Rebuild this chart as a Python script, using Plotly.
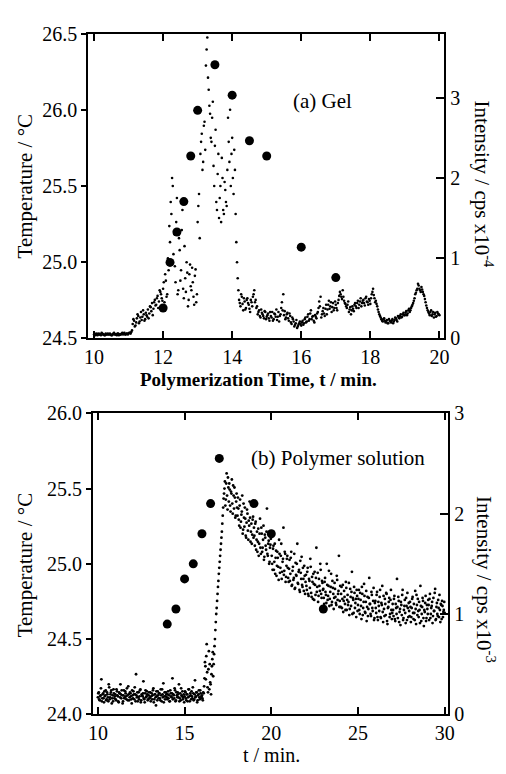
import plotly.graph_objects as go

W, H = 506, 774

# ---------------- Panel (a) Gel ----------------
temp_a_time = [12.0, 12.2, 12.4, 12.6, 12.8, 13.0, 13.5, 14.0, 14.5, 15.0, 16.0, 17.0]
temp_a_value = [24.7, 25.0, 25.2, 25.4, 25.7, 26.0, 26.3, 26.1, 25.8, 25.7, 25.1, 24.9]

# light-scattering intensity, two interleaved reading sets (start, step)
int_a_start = 10.0
int_a_start2 = 10.02
int_a_step = 0.04
int_a_value = [
    # 10.00 - 10.96
    0.05, 0.04, 0.06, 0.05, 0.05, 0.04, 0.06, 0.05, 0.04, 0.05, 0.06, 0.05, 0.05,
    0.04, 0.06, 0.05, 0.05, 0.06, 0.04, 0.05, 0.06, 0.05, 0.07, 0.05, 0.06,
    # 11.00 - 11.96
    0.06, 0.07, 0.08, 0.18, 0.22, 0.16, 0.25, 0.28, 0.21, 0.33, 0.27, 0.30, 0.24,
    0.29, 0.36, 0.31, 0.39, 0.44, 0.37, 0.48, 0.42, 0.53, 0.46, 0.58, 0.50,
    # 12.00 - 12.96
    0.62, 0.45, 0.72, 0.55, 0.85, 1.20, 1.55, 1.90, 1.30, 0.70, 1.75, 0.60, 1.10,
    0.85, 1.60, 0.50, 0.75, 0.95, 0.40, 0.80, 0.65, 0.88, 0.52, 0.78, 0.45,
    # 13.00 - 13.96
    1.45, 1.80, 2.30, 2.55, 2.20, 2.70, 3.40, 3.75, 3.10, 2.80, 2.45, 2.95, 1.90,
    2.60, 1.60, 2.30, 1.75, 1.45, 2.00, 1.55, 1.85, 1.65, 2.75, 2.20, 1.90,
    # 14.00 - 14.96
    2.50, 1.80, 2.10, 1.20, 0.75, 0.48, 0.40, 0.52, 0.35, 0.46, 0.38, 0.50, 0.42,
    0.33, 0.45, 0.52, 0.60, 0.48, 0.40, 0.33, 0.28, 0.36, 0.30, 0.25, 0.33,
    # 15.00 - 15.96
    0.27, 0.31, 0.22, 0.28, 0.33, 0.24, 0.30, 0.36, 0.27, 0.21, 0.30, 0.45, 0.55,
    0.34, 0.26, 0.32, 0.22, 0.28, 0.18, 0.24, 0.15, 0.19, 0.13, 0.17, 0.21,
    # 16.00 - 16.96
    0.16, 0.22, 0.19, 0.26, 0.21, 0.30, 0.24, 0.35, 0.27, 0.22, 0.29, 0.25, 0.33,
    0.46, 0.52, 0.30, 0.38, 0.28, 0.42, 0.36, 0.47, 0.40, 0.33, 0.44, 0.38,
    # 17.00 - 17.96
    0.42, 0.35, 0.48, 0.58, 0.52, 0.60, 0.47, 0.43, 0.38, 0.46, 0.36, 0.30, 0.40,
    0.34, 0.44, 0.38, 0.47, 0.42, 0.50, 0.44, 0.48, 0.41, 0.52, 0.45, 0.49,
    # 18.00 - 18.96
    0.43, 0.55, 0.62, 0.50, 0.47, 0.40, 0.33, 0.28, 0.24, 0.21, 0.25, 0.20, 0.23,
    0.19, 0.22, 0.20, 0.24, 0.21, 0.26, 0.23, 0.28, 0.25, 0.30, 0.27, 0.32,
    # 19.00 - 20.00
    0.29, 0.34, 0.31, 0.37, 0.35, 0.40, 0.44, 0.50, 0.57, 0.62, 0.66, 0.60, 0.64,
    0.58, 0.53, 0.45, 0.38, 0.33, 0.29, 0.35, 0.30, 0.26, 0.32, 0.28, 0.31, 0.29,
]
int_a_value2 = [
    # 10.02 - 10.98
    0.06, 0.05, 0.04, 0.06, 0.05, 0.07, 0.05, 0.04, 0.06, 0.05, 0.05, 0.06, 0.04,
    0.05, 0.07, 0.05, 0.04, 0.06, 0.05, 0.05, 0.07, 0.06, 0.05, 0.06, 0.05,
    # 11.02 - 11.98
    0.07, 0.06, 0.10, 0.24, 0.15, 0.20, 0.30, 0.19, 0.26, 0.23, 0.35, 0.22, 0.32,
    0.27, 0.25, 0.40, 0.34, 0.29, 0.45, 0.41, 0.50, 0.38, 0.60, 0.55, 0.47,
    # 12.02 - 12.98
    0.70, 0.80, 0.52, 1.00, 1.40, 1.70, 2.00, 1.05, 0.90, 1.45, 0.55, 1.25, 0.72,
    1.35, 0.62, 1.15, 0.58, 0.82, 0.48, 0.92, 0.60, 0.70, 0.42, 0.86, 0.55,
    # 13.02 - 13.98
    1.65, 1.25, 2.45, 2.10, 2.65, 2.35, 3.60, 3.25, 2.90, 2.50, 2.75, 2.15, 2.40,
    1.70, 2.05, 1.50, 1.90, 2.25, 1.60, 1.95, 1.70, 2.10, 2.45, 2.85, 2.30,
    # 14.02 - 14.98
    2.00, 2.35, 1.55, 0.95, 0.60, 0.44, 0.55, 0.43, 0.50, 0.36, 0.48, 0.44, 0.37,
    0.48, 0.40, 0.55, 0.45, 0.38, 0.30, 0.35, 0.26, 0.32, 0.28, 0.34, 0.24,
    # 15.02 - 15.98
    0.29, 0.25, 0.33, 0.26, 0.22, 0.31, 0.27, 0.23, 0.33, 0.28, 0.38, 0.35, 0.29,
    0.24, 0.30, 0.25, 0.31, 0.20, 0.26, 0.21, 0.17, 0.23, 0.15, 0.19, 0.18,
    # 16.02 - 16.98
    0.20, 0.17, 0.24, 0.20, 0.27, 0.22, 0.31, 0.24, 0.28, 0.20, 0.27, 0.31, 0.38,
    0.40, 0.26, 0.34, 0.31, 0.37, 0.30, 0.42, 0.37, 0.45, 0.39, 0.35, 0.46,
    # 17.02 - 17.98
    0.38, 0.44, 0.53, 0.55, 0.49, 0.52, 0.44, 0.40, 0.42, 0.33, 0.39, 0.35, 0.37,
    0.42, 0.40, 0.44, 0.38, 0.46, 0.40, 0.47, 0.44, 0.50, 0.46, 0.42, 0.47,
    # 18.02 - 18.98
    0.50, 0.58, 0.54, 0.45, 0.43, 0.36, 0.30, 0.26, 0.22, 0.24, 0.22, 0.21, 0.19,
    0.24, 0.21, 0.22, 0.19, 0.23, 0.25, 0.21, 0.26, 0.28, 0.26, 0.30, 0.29,
    # 19.02 - 19.98
    0.32, 0.29, 0.35, 0.33, 0.38, 0.42, 0.47, 0.55, 0.60, 0.68, 0.62, 0.58, 0.61,
    0.55, 0.49, 0.41, 0.35, 0.31, 0.33, 0.28, 0.33, 0.30, 0.27, 0.33, 0.30,
]

# ---------------- Panel (b) Polymer solution ----------------
temp_b_time = [14.0, 14.5, 15.0, 15.5, 16.0, 16.5, 17.0, 19.0, 20.0, 23.0]
temp_b_value = [24.6, 24.7, 24.9, 25.0, 25.2, 25.4, 25.7, 25.4, 25.2, 24.7]

int_b_start = 10.0
int_b_start2 = 10.025
int_b_step = 0.05
int_b_value = [
    # 10
    0.17, 0.22, 0.14, 0.19, 0.35, 0.16, 0.21, 0.12, 0.18, 0.24, 0.15, 0.20, 0.13, 0.27, 0.17, 0.22, 0.11, 0.19, 0.25, 0.16,
    # 11
    0.20, 0.14, 0.23, 0.18, 0.12, 0.21, 0.30, 0.16, 0.19, 0.13, 0.24, 0.17, 0.21, 0.15, 0.19, 0.28, 0.14, 0.22, 0.18, 0.11,
    # 12
    0.19, 0.23, 0.15, 0.20, 0.40, 0.17, 0.13, 0.22, 0.18, 0.25, 0.14, 0.19, 0.21, 0.16, 0.12, 0.24, 0.18, 0.20, 0.15, 0.22,
    # 13
    0.17, 0.13, 0.21, 0.19, 0.26, 0.15, 0.20, 0.09, 0.18, 0.23, 0.16, 0.21, 0.14, 0.19, 0.25, 0.17, 0.12, 0.22, 0.18, 0.20,
    # 14
    0.15, 0.23, 0.19, 0.13, 0.21, 0.17, 0.36, 0.20, 0.16, 0.24, 0.14, 0.19, 0.22, 0.17, 0.13, 0.21, 0.26, 0.18, 0.15, 0.20,
    # 15
    0.18, 0.22, 0.14, 0.20, 0.17, 0.25, 0.13, 0.19, 0.23, 0.16, 0.21, 0.15, 0.34, 0.18, 0.22, 0.14, 0.20, 0.17, 0.24, 0.16,
    # 16
    0.19, 0.14, 0.21, 0.36, 0.48, 0.58, 0.42, 0.22, 0.63, 0.50, 0.30, 0.40, 0.55, 0.38, 0.60, 0.75, 0.92, 1.06, 1.20, 1.33,
    # 17
    1.46, 1.58, 1.70, 1.82, 1.98, 2.15, 2.25, 2.08, 2.30, 2.18, 2.36, 2.12, 2.24, 2.02, 2.20, 2.10, 2.28, 2.05, 2.16, 1.98,
    # 18
    2.20, 1.98, 2.05, 1.88, 2.14, 1.92, 2.02, 1.80, 2.10, 1.87, 1.95, 1.76, 2.04, 1.83, 1.93, 2.12, 1.72, 1.90, 1.79, 1.97,
    # 19
    1.86, 1.68, 1.92, 1.74, 1.62, 1.85, 1.70, 1.95, 1.60, 1.80, 1.66, 1.88, 1.57, 1.76, 1.64, 2.05, 1.58, 1.73, 1.52, 1.69,
    # 20
    1.78, 1.50, 1.65, 1.44, 1.70, 1.56, 1.38, 1.62, 1.47, 1.74, 1.41, 1.58, 1.35, 1.52, 1.86, 1.43, 1.60, 1.37, 1.55, 1.46,
    # 21
    1.32, 1.54, 1.40, 1.62, 1.29, 1.47, 1.36, 1.25, 1.51, 1.38, 1.70, 1.30, 1.44, 1.22, 1.41, 1.57, 1.27, 1.35, 1.48, 1.20,
    # 22
    1.39, 1.24, 1.46, 1.18, 1.33, 1.55, 1.21, 1.37, 1.15, 1.30, 1.42, 1.19, 1.66, 1.27, 1.12, 1.35, 1.23, 1.44, 1.16, 1.31,
    # 23
    1.25, 1.10, 1.36, 1.19, 1.50, 1.14, 1.28, 1.08, 1.22, 1.40, 1.12, 1.26, 1.05, 1.31, 1.17, 1.09, 1.34, 1.20, 1.58, 1.13,
    # 24
    1.07, 1.27, 1.15, 1.02, 1.23, 1.10, 1.32, 1.04, 1.19, 1.12, 0.99, 1.25, 1.08, 1.42, 1.16, 1.01, 1.21, 1.11, 0.97, 1.18,
    # 25
    1.09, 1.24, 1.00, 1.14, 0.95, 1.20, 1.06, 1.30, 1.02, 1.12, 0.93, 1.17, 1.05, 1.36, 1.10, 0.98, 1.19, 1.03, 1.26, 0.96,
    # 26
    1.13, 1.01, 1.22, 0.94, 1.08, 1.17, 0.97, 1.11, 1.28, 0.92, 1.05, 1.15, 0.99, 1.20, 0.90, 1.07, 1.16, 1.00, 1.24, 0.95,
    # 27
    1.10, 0.98, 1.18, 0.93, 1.06, 1.35, 0.96, 1.13, 1.02, 0.89, 1.09, 1.19, 0.94, 1.04, 1.14, 0.91, 1.08, 1.21, 0.97, 1.03,
    # 28
    1.12, 0.92, 1.06, 1.17, 0.95, 1.01, 1.23, 0.90, 1.09, 1.15, 0.97, 1.04, 1.28, 0.93, 1.07, 1.13, 0.88, 1.02, 1.18, 0.96,
    # 29
    1.05, 1.14, 0.94, 1.20, 1.00, 1.08, 0.91, 1.16, 1.03, 1.25, 0.95, 1.11, 0.98, 1.06, 1.19, 0.92, 1.09, 1.13, 0.97, 1.04,
    # 30
    1.01,
]
int_b_value2 = [
    # 10.025
    0.21, 0.15, 0.18, 0.26, 0.13, 0.20, 0.16, 0.23, 0.19, 0.14, 0.22, 0.17, 0.30, 0.15, 0.20, 0.24, 0.16, 0.13, 0.21, 0.18,
    # 11.025
    0.15, 0.25, 0.19, 0.13, 0.22, 0.17, 0.20, 0.24, 0.11, 0.19, 0.16, 0.23, 0.18, 0.26, 0.14, 0.20, 0.17, 0.21, 0.15, 0.24,
    # 12.025
    0.16, 0.20, 0.27, 0.13, 0.19, 0.22, 0.17, 0.15, 0.24, 0.12, 0.20, 0.18, 0.33, 0.15, 0.21, 0.17, 0.23, 0.14, 0.19, 0.16,
    # 13.025
    0.22, 0.18, 0.15, 0.24, 0.12, 0.20, 0.17, 0.23, 0.14, 0.19, 0.21, 0.16, 0.25, 0.13, 0.20, 0.31, 0.18, 0.15, 0.22, 0.17,
    # 14.025
    0.20, 0.16, 0.13, 0.24, 0.18, 0.21, 0.15, 0.19, 0.26, 0.13, 0.22, 0.17, 0.20, 0.30, 0.16, 0.14, 0.19, 0.23, 0.17, 0.12,
    # 15.025
    0.23, 0.16, 0.20, 0.13, 0.25, 0.18, 0.21, 0.15, 0.18, 0.27, 0.14, 0.20, 0.17, 0.22, 0.12, 0.19, 0.24, 0.15, 0.21, 0.18,
    # 16.025
    0.16, 0.22, 0.28, 0.52, 0.35, 0.70, 0.27, 0.45, 0.25, 0.32, 0.20, 0.48, 0.62, 0.50, 0.68, 0.84, 1.00, 1.13, 1.27, 1.40,
    # 17.025
    1.52, 1.64, 1.76, 1.90, 2.06, 2.20, 2.32, 2.14, 2.40, 2.04, 2.26, 2.30, 2.08, 2.22, 2.34, 2.00, 2.18, 2.26, 1.96, 2.12,
    # 18.025
    2.06, 2.16, 1.94, 2.08, 1.86, 1.99, 2.18, 1.84, 1.96, 2.06, 1.78, 1.91, 2.00, 1.74, 1.88, 1.96, 1.82, 1.70, 1.94, 1.76,
    # 19.025
    1.78, 1.90, 1.64, 1.82, 1.72, 1.58, 1.80, 1.66, 1.86, 1.62, 1.74, 1.54, 1.79, 1.68, 1.82, 1.60, 1.70, 1.50, 1.66, 1.75,
    # 20.025
    1.58, 1.44, 1.68, 1.52, 1.40, 1.63, 1.48, 1.56, 1.34, 1.60, 1.46, 1.70, 1.42, 1.55, 1.39, 1.62, 1.32, 1.48, 1.58, 1.36,
    # 21.025
    1.45, 1.33, 1.56, 1.28, 1.43, 1.34, 1.60, 1.26, 1.39, 1.50, 1.31, 1.42, 1.24, 1.53, 1.35, 1.29, 1.46, 1.23, 1.38, 1.32,
    # 22.025
    1.28, 1.42, 1.20, 1.35, 1.26, 1.47, 1.17, 1.32, 1.40, 1.14, 1.29, 1.36, 1.22, 1.41, 1.18, 1.28, 1.50, 1.20, 1.33, 1.24,
    # 23.025
    1.16, 1.32, 1.22, 1.11, 1.29, 1.18, 1.43, 1.15, 1.27, 1.09, 1.33, 1.20, 1.16, 1.25, 1.11, 1.38, 1.14, 1.23, 1.07, 1.28,
    # 24.025
    1.20, 1.06, 1.29, 1.13, 1.17, 1.04, 1.26, 1.14, 1.09, 1.31, 1.05, 1.17, 1.22, 1.00, 1.14, 1.27, 1.06, 1.15, 1.24, 1.03,
    # 25.025
    1.15, 1.04, 1.21, 1.08, 1.27, 0.99, 1.12, 1.18, 1.01, 1.23, 1.07, 0.98, 1.16, 1.10, 1.00, 1.22, 1.06, 1.13, 0.94, 1.11,
    # 26.025
    1.06, 1.19, 0.97, 1.12, 1.03, 1.24, 0.96, 1.09, 1.02, 1.18, 0.98, 1.10, 1.21, 0.93, 1.06, 1.12, 0.97, 1.14, 1.04, 1.01,
    # 27.025
    1.04, 1.15, 0.95, 1.10, 1.00, 1.07, 1.17, 0.92, 1.05, 1.12, 0.99, 1.24, 0.96, 1.08, 1.01, 1.16, 0.94, 1.06, 1.11, 0.98,
    # 28.025
    1.07, 0.97, 1.15, 1.01, 1.10, 0.94, 1.05, 1.19, 0.99, 1.03, 1.12, 0.91, 1.08, 1.00, 1.16, 0.96, 1.04, 1.11, 0.93, 1.09,
    # 29.025
    1.00, 1.09, 1.15, 0.96, 1.06, 1.12, 0.98, 1.03, 1.21, 0.94, 1.07, 1.00, 1.14, 0.97, 1.04, 1.10, 0.95, 1.08, 1.02, 1.12,
]


def sample_times(start, step, n):
    return [round(start + i * step, 4) for i in range(n)]


int_a_time = sample_times(int_a_start, int_a_step, len(int_a_value))
int_a_time2 = sample_times(int_a_start2, int_a_step, len(int_a_value2))
int_b_time = sample_times(int_b_start, int_b_step, len(int_b_value))
int_b_time2 = sample_times(int_b_start2, int_b_step, len(int_b_value2))

FONT = "Liberation Serif"


def px_x(p):
    return p / W


def px_y(p):
    return 1 - p / H


fig = go.Figure()

small_a = dict(size=2.6, color="black")
small_b = dict(size=2.8, color="black")
big = dict(size=9, color="black")

fig.add_trace(go.Scatter(x=int_a_time + int_a_time2, y=int_a_value + int_a_value2, mode="markers",
                         xaxis="x", yaxis="y2", marker=small_a, showlegend=False))
fig.add_trace(go.Scatter(x=temp_a_time, y=temp_a_value, mode="markers", xaxis="x", yaxis="y",
                         marker=big, showlegend=False))
fig.add_trace(go.Scatter(x=int_b_time + int_b_time2, y=int_b_value + int_b_value2, mode="markers",
                         xaxis="x2", yaxis="y4", marker=small_b, showlegend=False))
fig.add_trace(go.Scatter(x=temp_b_time, y=temp_b_value, mode="markers", xaxis="x2", yaxis="y3",
                         marker=big, showlegend=False))

tickfont = dict(family=FONT, size=20, color="black")
axis_common = dict(showline=True, linecolor="black", linewidth=2, showgrid=False, zeroline=False,
                   tickfont=tickfont, tickcolor="black", tickwidth=1.5)

fig.update_layout(
    width=W, height=H, margin=dict(l=0, r=0, t=0, b=0),
    paper_bgcolor="white", plot_bgcolor="white",
    xaxis=dict(domain=[px_x(85), px_x(449)], range=[9.83, 20.14], anchor="y",
               tickvals=[10, 12, 14, 16, 18, 20], ticks="inside", ticklen=7, mirror="ticks",
               **axis_common),
    yaxis=dict(domain=[px_y(337), px_y(24)], range=[24.5, 26.5], anchor="x",
               tickvals=[24.5, 25.0, 25.5, 26.0, 26.5], tickformat=".1f",
               ticks="outside", ticklen=5, **axis_common),
    yaxis2=dict(overlaying="y", side="right", anchor="x", range=[0, 3.79],
                tickvals=[0, 1, 2, 3], ticks="inside", ticklen=8, **axis_common),
    xaxis2=dict(domain=[px_x(90), px_x(453)], range=[9.72, 30.2], anchor="y3",
                tickvals=[10, 15, 20, 25, 30], ticks="inside", ticklen=7, mirror="ticks",
                **axis_common),
    yaxis3=dict(domain=[px_y(724), px_y(414)], range=[24.0, 26.0], anchor="x2",
                tickvals=[24.0, 24.5, 25.0, 25.5, 26.0], tickformat=".1f",
                ticks="outside", ticklen=5, **axis_common),
    yaxis4=dict(overlaying="y3", side="right", anchor="x2", range=[0, 3],
                tickvals=[0, 1, 2, 3], ticks="inside", ticklen=8, **axis_common),
)

annotations = [
    dict(text="Temperature / °C", x=px_x(20), y=px_y(180), textangle=-90, size=21),
    dict(text="Intensity / cps x10<sup>-4</sup>", x=px_x(489), y=px_y(178), textangle=90, size=21),
    dict(text="<b>Polymerization Time, t / min.</b>", x=px_x(259), y=px_y(379), size=19),
    dict(text="(a) Gel", x=px_x(325), y=px_y(93), size=21),
    dict(text="Temperature / °C", x=px_x(20), y=px_y(570), textangle=-90, size=21),
    dict(text="Intensity / cps x10<sup>-3</sup>", x=px_x(491), y=px_y(585), textangle=90, size=21),
    dict(text="t / min.", x=px_x(272), y=px_y(766), size=20),
    dict(text="(b) Polymer solution", x=px_x(340), y=px_y(460), size=21),
]
fig.update_layout(annotations=[
    dict(text=a["text"], x=a["x"], y=a["y"], textangle=a.get("textangle", 0),
         xref="paper", yref="paper", showarrow=False,
         font=dict(family=FONT, size=a["size"], color="black"),
         xanchor="center", yanchor="middle") for a in annotations
])

fig.write_html("out.html")
